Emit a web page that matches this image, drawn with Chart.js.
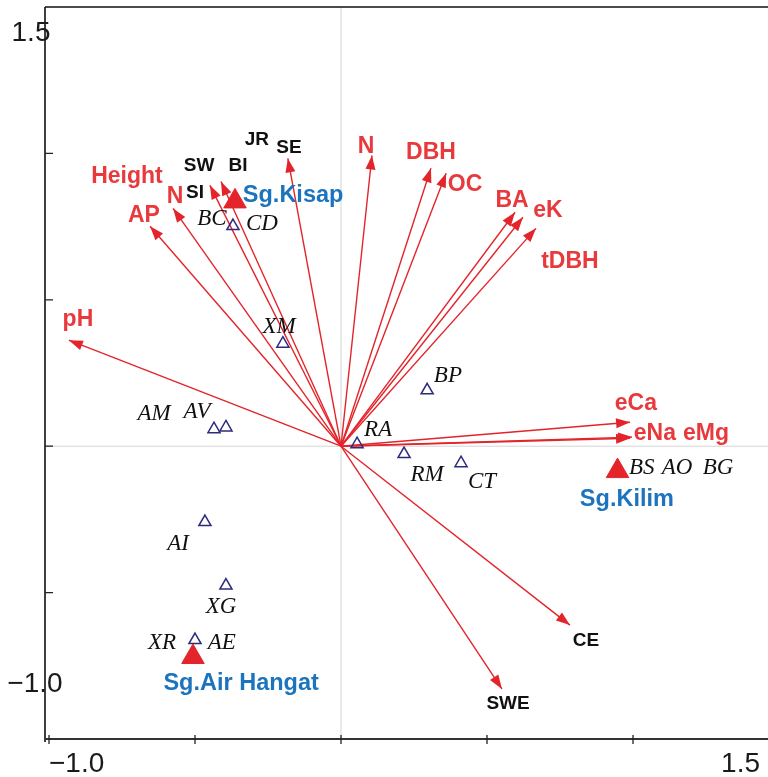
<!DOCTYPE html>
<html>
<head>
<meta charset="utf-8">
<title>CCA biplot</title>
<script src="https://cdn.jsdelivr.net/npm/chart.js@4.4.1/dist/chart.umd.min.js"></script>
<style>
  body { margin: 0; background: #fff; }
  canvas { display: block; }
</style>
</head>
<body>
<canvas id="grafico" width="768" height="777"></canvas>
<script>
// arrows from the origin (tips, axis units)
const vectorNames = ["pH", "AP", "N", "SW", "BI", "SE", "N", "DBH", "OC", "BA", "eK", "tDBH", "eCa", "eNa", "eMg", "CE", "SWE"];
const vectorX = [-0.932, -0.654, -0.575, -0.449, -0.411, -0.182, 0.106, 0.308, 0.360, 0.596, 0.623, 0.668, 0.990, 0.997, 0.990, 0.784, 0.551];
const vectorY = [0.362, 0.751, 0.812, 0.891, 0.904, 0.983, 0.993, 0.949, 0.932, 0.799, 0.782, 0.744, 0.082, 0.031, 0.027, -0.611, -0.829];

// species (open triangles)
const speciesNames = ["BC/CD", "XM", "AM", "AV", "BP", "RA", "RM", "CT", "AI", "XG", "XR/AE"];
const speciesX = [-0.370, -0.199, -0.435, -0.394, 0.295, 0.055, 0.216, 0.411, -0.466, -0.394, -0.500];
const speciesY = [0.752, 0.350, 0.058, 0.064, 0.191, 0.007, -0.027, -0.058, -0.259, -0.476, -0.662];

// sites (filled triangles)
const siteNames = ["Sg.Kisap", "Sg.Kilim", "Sg.Air Hangat"];
const siteX = [-0.363, 0.947, -0.507];
const siteY = [0.836, -0.085, -0.720];

// text labels [text, x, y]
const redLabels = [
  ["Height", -0.733, 0.898], ["N", -0.568, 0.829], ["AP", -0.675, 0.765], ["pH", -0.901, 0.410],
  ["N", 0.086, 1.003], ["DBH", 0.308, 0.980], ["OC", 0.425, 0.870], ["BA", 0.586, 0.816],
  ["eK", 0.709, 0.782], ["tDBH", 0.784, 0.608], ["eCa", 1.010, 0.123], ["eNa", 1.075, 0.020], ["eMg", 1.250, 0.020]
];
const blackLabels = [
  ["SW", -0.486, 0.939], ["BI", -0.353, 0.939], ["SI", -0.500, 0.846], ["JR", -0.288, 1.027],
  ["SE", -0.178, 1.003], ["CE", 0.839, -0.683], ["SWE", 0.572, -0.898]
];
const blueLabels = [
  ["Sg.Kisap", -0.164, 0.833], ["Sg.Kilim", 0.979, -0.205], ["Sg.Air Hangat", -0.342, -0.833]
];
const speciesLabels = [
  ["BC", -0.442, 0.754], ["CD", -0.271, 0.737], ["XM", -0.212, 0.386], ["AM", -0.640, 0.089],
  ["AV", -0.493, 0.096], ["BP", 0.366, 0.218], ["RA", 0.127, 0.034], ["RM", 0.295, -0.119],
  ["CT", 0.483, -0.143], ["BS", 1.030, -0.096], ["AO", 1.151, -0.096], ["BG", 1.291, -0.096],
  ["AI", -0.558, -0.355], ["XG", -0.411, -0.570], ["XR", -0.613, -0.693], ["AE", -0.408, -0.693]
];

const xTicks = [-1.0, -0.5, 0, 0.5, 1.0];
const yTicks = [-0.5, 0, 0.5, 1.0];
const axisLabels = ["\u22121.0", "1.5"];

const ROJO = "#e3242b";
const ROJO_TEXTO = "#e8393d";
const AZUL = "#1b74bd";
const NAVY = "#2c2b7c";

document.addEventListener("DOMContentLoaded", () => {
  dibujarBiplot();
});

function dibujarBiplot() {
  const datasets = [];

  datasets.push({
    label: "sites",
    data: siteX.map((x, i) => ({ x: x, y: siteY[i] })),
    pointStyle: "triangle",
    pointRadius: 13,
    backgroundColor: ROJO,
    borderColor: ROJO,
    borderWidth: 1,
    order: 0
  });

  datasets.push({
    label: "species",
    data: speciesX.map((x, i) => ({ x: x, y: speciesY[i] })),
    pointStyle: "triangle",
    pointRadius: 7,
    backgroundColor: "rgba(255,255,255,0)",
    borderColor: NAVY,
    borderWidth: 1.5,
    order: 1
  });

  vectorNames.forEach((name, i) => {
    datasets.push({
      label: "arrow " + name,
      data: [{ x: 0, y: 0 }, { x: vectorX[i], y: vectorY[i] }],
      showLine: true,
      borderColor: ROJO,
      borderWidth: 1.4,
      pointRadius: 0,
      arrow: true,
      order: 2
    });
  });

  const ctx = document.getElementById("grafico").getContext("2d");
  new Chart(ctx, {
    type: "scatter",
    data: { datasets: datasets },
    options: {
      responsive: false,
      animation: false,
      events: [],
      layout: { autoPadding: false, padding: { left: 45, right: 0, top: 7, bottom: 38 } },
      scales: {
        x: { type: "linear", min: -1.0137, max: 1.4623, display: false },
        y: { type: "linear", min: -1.0, max: 1.5, display: false }
      },
      plugins: { legend: { display: false }, tooltip: { enabled: false } }
    },
    plugins: [ejesPlugin, flechasPlugin, textosPlugin]
  });
}

// axes, zero lines and tick labels
const ejesPlugin = {
  id: "ejes",
  beforeDatasetsDraw(chart) {
    const c = chart.ctx;
    const xs = chart.scales.x, ys = chart.scales.y;
    const a = chart.chartArea;
    const x0 = xs.getPixelForValue(0), y0 = ys.getPixelForValue(0);
    c.save();

    c.strokeStyle = "#d4d4d4";
    c.lineWidth = 1;
    c.beginPath();
    c.moveTo(x0, a.top); c.lineTo(x0, a.bottom);
    c.moveTo(a.left, y0); c.lineTo(a.right, y0);
    c.stroke();

    c.strokeStyle = "#111";
    c.lineWidth = 1.6;
    c.beginPath();
    c.moveTo(a.left, a.top); c.lineTo(a.right, a.top);
    c.moveTo(a.left, a.top); c.lineTo(a.left, a.bottom + 3);
    c.stroke();

    c.strokeStyle = "#333";
    c.lineWidth = 2;
    c.beginPath();
    c.moveTo(a.left, a.bottom); c.lineTo(a.right, a.bottom);
    c.stroke();

    c.lineWidth = 1.3;
    c.strokeStyle = "#222";
    c.beginPath();
    xTicks.forEach(v => {
      const px = xs.getPixelForValue(v);
      c.moveTo(px, a.bottom - 4); c.lineTo(px, a.bottom + 5);
    });
    yTicks.forEach(v => {
      const py = ys.getPixelForValue(v);
      c.moveTo(a.left, py); c.lineTo(a.left + 8, py);
    });
    c.stroke();

    c.fillStyle = "#1a1a1a";
    c.font = "28px 'Liberation Sans', Arial, sans-serif";
    c.textAlign = "center";
    c.fillText(axisLabels[1], 31, ys.getPixelForValue(1.5) + 34);
    c.fillText(axisLabels[0], 35, ys.getPixelForValue(-1.0) - 47);
    c.textAlign = "left";
    c.fillText(axisLabels[0], xs.getPixelForValue(-1.0), a.bottom + 33);
    c.textAlign = "right";
    c.fillText(axisLabels[1], 760, a.bottom + 33);
    c.restore();
  }
};

// arrowheads on top of each arrow line
const flechasPlugin = {
  id: "flechas",
  afterDatasetDraw(chart, args) {
    const ds = chart.data.datasets[args.index];
    if (!ds.arrow) return;
    const pts = args.meta.data;
    const p0 = pts[0], p1 = pts[1];
    const ang = Math.atan2(p1.y - p0.y, p1.x - p0.x);
    const largo = 14, ancho = 5;
    const c = chart.ctx;
    c.save();
    c.fillStyle = ROJO;
    c.beginPath();
    c.moveTo(p1.x, p1.y);
    c.lineTo(p1.x - largo * Math.cos(ang) + ancho * Math.sin(ang), p1.y - largo * Math.sin(ang) - ancho * Math.cos(ang));
    c.lineTo(p1.x - largo * Math.cos(ang) - ancho * Math.sin(ang), p1.y - largo * Math.sin(ang) + ancho * Math.cos(ang));
    c.closePath();
    c.fill();
    c.restore();
  }
};

const textosPlugin = {
  id: "textos",
  afterDatasetsDraw(chart) {
    const c = chart.ctx;
    const xs = chart.scales.x, ys = chart.scales.y;
    c.save();
    c.textAlign = "center";
    c.textBaseline = "alphabetic";

    function escribir(lista, font, color) {
      c.font = font;
      c.fillStyle = color;
      lista.forEach(l => c.fillText(l[0], xs.getPixelForValue(l[1]), ys.getPixelForValue(l[2])));
    }

    escribir(redLabels, "bold 23px 'Liberation Sans', Arial, sans-serif", ROJO_TEXTO);
    escribir(blackLabels, "bold 19px 'Liberation Sans', Arial, sans-serif", "#111");
    escribir(blueLabels, "bold 23.5px 'Liberation Sans', Arial, sans-serif", AZUL);
    escribir(speciesLabels, "italic 23px 'Liberation Serif', 'Times New Roman', serif", "#111");
    c.restore();
  }
};
</script>
</body>
</html>
